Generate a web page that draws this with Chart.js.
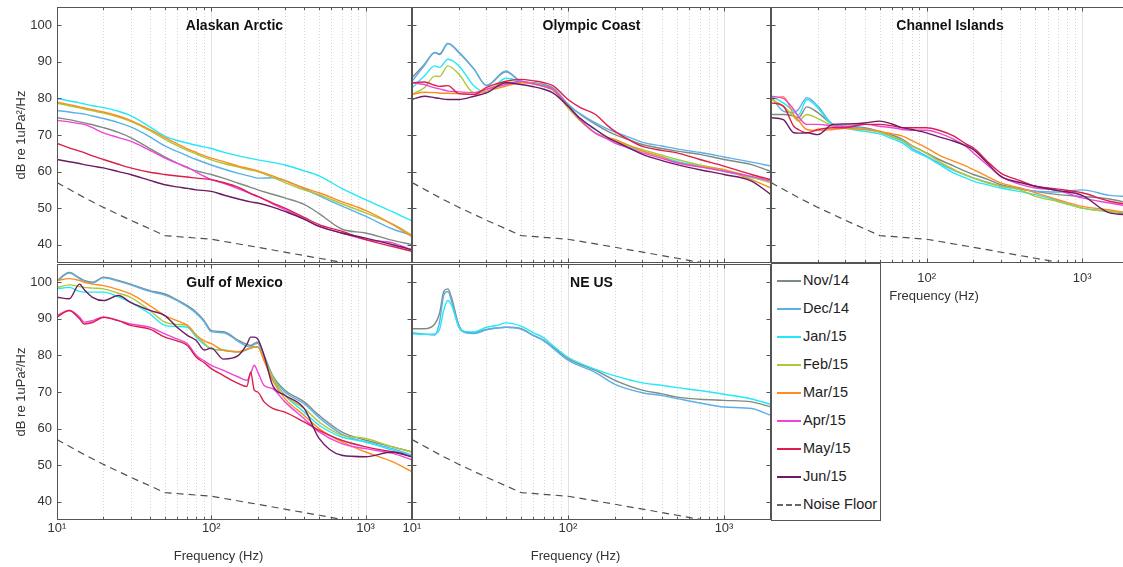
<!DOCTYPE html>
<html>
<head>
<meta charset="utf-8">
<script src="https://cdn.jsdelivr.net/npm/chart.js@4.4.0/dist/chart.umd.min.js"></script>
<style>
  html, body { margin:0; padding:0; background:#fff; width:1123px; height:567px; overflow:hidden; position:relative; }
  canvas { position:absolute; left:0; top:0; }
  #legend { position:absolute; left:771px; top:263px; width:110px; height:258px; box-sizing:border-box;
            background:#fff; border:1px solid #555; z-index:10; font-family:"Liberation Sans", Arial, Helvetica, sans-serif; }
  .row { position:absolute; left:0; height:20px; width:107px; }
  .row span.l { position:absolute; left:5px; top:9px; width:24px; height:0; border-top:2px solid #888; }
  .row span.t { position:absolute; left:31px; top:1px; font-size:14.5px; color:#222; line-height:17px; white-space:nowrap; }
</style>
</head>
<body>
<canvas id="p1" width="1135" height="567"></canvas>
<canvas id="p2" width="1135" height="567"></canvas>
<canvas id="p3" width="1135" height="567"></canvas>
<canvas id="p4" width="1135" height="567"></canvas>
<canvas id="p5" width="1135" height="567"></canvas>
<div id="legend"></div>
<script>
// series names / colours
const monthLabels = ['Nov/14','Dec/14','Jan/15','Feb/15','Mar/15','Apr/15','May/15','Jun/15'];
const monthColors = ['#7f8b80','#5cb0ea','#22e8f7','#a9c93a','#ff8c1e','#ee44da','#dc1f4a','#6d1b63'];

// noise floor (same in every panel)
const noiseFreq  = [10, 15, 20, 30, 50, 100, 200, 500, 1000, 2000];
const noiseFloor = [57, 52.9, 50.2, 46.7, 42.5, 41.5, 39.3, 36.3, 34, 31.8];

// tick labels
const yTicks = [40, 50, 60, 70, 80, 90, 100];
const xMajor = [10, 100, 1000];
const xMajorLabels = ['10\u00B9', '10\u00B2', '10\u00B3'];
const xMinor = [20,30,40,50,60,70,80,90,200,300,400,500,600,700,800,900,2000];

// frequency grids (Hz)
const freqA = [10,12,14,15,17,20,25,30,40,50,60,70,80,100,120,150,180,200,250,300,400,500,700,1000,1500,2000];
const freqGulf = [10,12,14,15,17,20,25,30,40,50,60,70,80,90,100,120,150,170,180,190,200,220,250,300,400,500,700,1000,1500,2000];
const freqNE = [10,12,14,15,16,17,18,20,22,25,30,35,40,50,60,70,80,100,150,200,300,400,500,700,1000,1500,2000];

// Alaskan Arctic
const arcticNov = [74.7,74.2,73.6,73.3,72.8,72,70.7,69.3,66.3,64,62.3,61,60.2,59.2,58.2,56.8,55.7,55,53.8,52.8,51,48.5,44.3,43.2,41.2,40];
const arcticDec = [76.7,76.3,75.9,75.7,75.2,74.5,73.4,72.2,69.5,67,65.5,64.3,63.3,61.8,60.7,59.5,58.7,58.2,58.3,57.6,55.3,53.4,50.6,47.8,44.3,42.6];
const arcticJan = [80,79.3,78.8,78.5,78,77.5,76.5,75.3,72.2,69.7,68.5,67.8,67.2,66.3,65.3,64.3,63.6,63.2,62.5,61.8,60.2,58.8,55.4,52.3,49,46.5];
const arcticFeb = [78.7,78,77.4,77.1,76.6,76,74.9,73.7,71.2,68.8,67.1,65.8,64.8,63.2,62.2,61.2,60.4,60,58.4,57,55,53.7,51.2,48.7,45.6,42.6];
const arcticMar = [79,78.3,77.7,77.4,76.9,76.3,75.2,74,71.5,69.3,67.6,66.2,65.2,63.7,62.7,61.5,60.7,60.2,58.8,57.5,55.5,54.2,51.8,49.4,45.5,42.2];
const arcticApr = [74,73.6,73.1,72.9,72,70.6,69.3,68.3,65.8,63.7,62.3,61.2,59.8,57.8,56.8,55.3,54,53.2,51.2,49.6,47,45,43.2,41.4,40.5,38.6];
const arcticMay = [67.7,66.5,65.6,65.2,64.3,63.3,62,61,59.8,59.2,58.8,58.5,58.2,57.8,57,55.7,54,53.2,51.4,50,47.5,45.5,43.7,41.4,39.5,38.2];
const arcticJun = [63.3,62.7,62.2,61.9,61.5,61,60,59.2,57.6,56.4,55.8,55.4,55,54.6,53.6,52.5,51.7,51.4,50.3,49.1,47,45,43.2,41.8,40,38.6];

// Olympic Coast
const olyNov = [85.7,89.3,92.6,92,95,92.5,88,83.5,87.3,84.7,84.3,83.8,82.9,78.4,75.6,72.9,71,70.1,68.6,67.4,66.3,65.6,64.7,63.3,61.9,60];
const olyDec = [84.7,89,92.5,92.2,95,92.7,88,83.6,87.5,84.5,84.2,83.6,82.6,78.2,75.8,73.3,71.6,70.8,69.3,68,67,66.2,65.2,64,62.6,61.5];
const olyJan = [82.9,86.1,88.9,88.5,90.7,88.9,83.4,81.6,85.5,84.7,84,83.3,82.3,77.9,74.5,71.5,69,67.8,66.6,65.6,64,62.8,61.5,60.1,58.3,57.8];
const olyFeb = [81.1,82.9,86.1,86,88.9,86.6,81.6,82.5,84.3,84.5,84,83.3,82.3,77.4,73.8,70.5,69,68.3,67,66,64.5,63.3,61.8,60.5,58.5,56.9];
const olyMar = [81.1,81.7,81.6,81.5,81.4,81.3,81.1,82,83.4,84.3,84,83.3,82.3,77.9,74,70.5,69.3,68.8,67,65.6,64,62.4,61.3,60.5,57.8,55.5];
const olyApr = [84.3,83.8,82.9,82.6,82,81.8,81.6,82.5,83.8,84.7,84,83.3,82.5,77.9,74.2,70.5,68.8,67.8,66.3,65.1,63.6,62.4,61.3,60.1,58.7,57.4];
const olyMay = [84.3,84.5,83.6,83.3,83.5,81.3,81.1,83,84.7,85.2,84.8,84.3,83.5,79.7,77.5,75.6,72.5,71,68.5,66.9,65.8,65.1,63.3,61.5,59.2,57.8];
const olyJun = [79.7,80.6,80.2,80,79.7,79.7,80.6,81.5,84.3,83.8,83.2,82.5,81.5,77.9,74.5,71.5,69.3,68.3,66.3,64.7,63,61.9,60.5,59.2,57.4,53.7];

// Channel Islands
const chiNov = [75.6,75.6,75.2,74.7,77.7,76.1,72.9,72.4,72,71,70,68.8,67.2,65.1,63.3,61.5,60,59.2,57.8,56.4,55.3,54.6,53.7,53.2,52.5,51.4];
const chiDec = [80.6,76.5,76.1,77,80.2,77.9,72.9,72.4,71.8,70.8,69.5,68.3,66.5,64.2,62.3,60.3,59,58.3,57,56,55.2,54.6,54.4,55,53.5,53.2];
const chiJan = [80.6,78.8,76.5,75.5,79.7,77.4,72.5,71.8,71,70.3,69,67.8,66,64,62,59.6,58.2,57.4,56.3,55.5,54.5,53.7,52,50,49.1,48.2];
const chiFeb = [79.7,77.9,75,73.8,75.6,74.5,72.5,71.8,71.5,70.8,69.5,68.5,67,65,62.8,60.5,59,58.2,56.8,56,55,53.2,51.8,50,49,48.7];
const chiMar = [79.7,80.5,75.5,74,71.5,71.2,71.5,71.8,71.5,71,70.3,69.7,68.5,66.5,64.5,62.8,61.5,60.5,58.5,56.9,55.5,54.2,52.3,50.5,49.5,48.7];
const chiApr = [80.6,80,77,75,72.9,72.9,72.5,72.3,72.9,72.4,72,71.5,71.3,71.3,70.5,68.8,66.8,65.1,61.5,58.7,56.5,55.5,54.8,52.8,51.4,50.5];
const chiMay = [78.8,77.9,72.4,71.5,70.6,71.5,72,72,72.9,72.9,72.5,72,72,72,71.3,69.7,67.5,66.5,62.5,59.6,57.5,56,55.2,54.2,51.9,51];
const chiJun = [74.7,74.2,70.6,70.5,70.6,70.1,72.9,73,73.3,73.8,73,72,71.5,70.6,69.5,68.3,67,66,62,58.7,57,56,54.8,53.5,48.7,48.2];

// Gulf of Mexico
const gulfNov = [100.5,102.7,101.2,100.5,100,101.4,100.5,99.5,97.7,96.8,95.2,93.6,91.8,89.5,86.8,86.5,84.1,83,82.7,83.3,83.6,80,74.5,70.5,67.3,63.6,59.1,56.8,55,53.6];
const gulfDec = [100.3,102.5,101,100.3,99.8,101.2,100.3,99.3,97.5,96.5,95,93.3,91.5,89.2,86.5,86.2,83.8,82.5,82.3,83,83.3,79.5,74.2,70,66.8,63,58.5,56.3,54.5,52.7];
const gulfJan = [98.2,98.6,97.5,97.3,97.3,97.3,96,94.5,91.4,88.2,87.9,87.7,85,83,81.8,81.5,80.9,81.5,82,82.3,82.3,79,73.6,69.1,64.5,60.9,57.7,56.4,54.1,52.7];
const gulfFeb = [98.6,99.3,98.8,98.6,98.4,98.2,97,95.9,92.3,89.1,88.5,88.2,85.5,83.3,81.8,81.4,81,81.7,82,82.3,82.3,79,74.1,69.1,65.5,61.8,58.2,57.3,55,53.6];
const gulfMar = [100.5,101,100.5,100,99.5,99.1,98,96.8,93.6,90.9,89.5,88.2,85.5,84,83.2,81.4,81,81.7,82,82.3,82.3,78.5,73.2,68.2,63.6,60,56.4,53.6,50.9,48.2];
const gulfApr = [90.9,92.3,90.5,89.1,89.5,90.5,89.5,88.6,87.7,85.9,84.5,83.2,80,78.5,77.3,75.9,74.1,73.2,75,77.3,75.5,71.8,70.9,67.3,62.7,59.1,55.9,54.5,53.2,51.4];
const gulfMay = [90.5,92.3,90,88.6,89,90.4,89.5,88.2,87.2,85,84,82.7,79.5,78,76.4,74.5,72.3,71.5,75.5,70.5,70,67.3,65.5,64.5,61.8,59.5,56.8,55,53.6,52.3];
const gulfJun = [95.9,95.5,99.5,98,95.9,95,96.4,94.5,92.3,90.9,87.7,85.5,84.1,81.5,82,79,80,83,85,85,84.5,80,71.8,69.1,65.5,57.3,52.7,52.3,53.6,52.3];

// NE US (only three months)
const neNov = [87.3,87.3,88.6,91.4,97.5,98.2,95.5,88.2,86.4,86.2,87.1,87.5,87.7,87.3,85.5,84.1,82.3,79.1,75.9,73.2,70.5,69.5,68.6,68,67.7,67.3,65.9];
const neDec = [86.2,85.8,85.6,89,96.5,97.5,94.5,87.7,86.2,86,87,87.5,87.7,87.2,85.4,84,82,78.7,75.3,72.1,69.8,69,68.2,67,65.9,65.5,63.6];
const neJan = [85.9,85.8,85.9,87,92.5,95,93.5,87.7,86.5,86.4,87.7,88.2,88.9,88,86.2,84.8,82.7,79.5,76.2,74.4,72.5,71.8,71.2,70.4,69.4,68.1,66.6];

const FONT = '"Liberation Sans", Arial, Helvetica, sans-serif';
const CW = 1135, CH = 567;

const panelFrame = {
  id: 'panelFrame',
  beforeDatasetsDraw(chart){
    const {ctx, chartArea: ca, scales: {x}} = chart;
    ctx.save();
    ctx.lineWidth = 1;
    xMinor.concat([100, 1000]).forEach(f => {
      const px = Math.round(x.getPixelForValue(f)) + 0.5;
      if(px <= ca.left + 1 || px >= ca.right - 1) return;
      const major = f === 100 || f === 1000;
      ctx.strokeStyle = major ? '#e2e2e2' : '#d4d4d4';
      ctx.setLineDash(major ? [] : [1, 2]);
      ctx.beginPath(); ctx.moveTo(px, ca.top); ctx.lineTo(px, ca.bottom); ctx.stroke();
    });
    ctx.restore();
  },
  afterDatasetsDraw(chart, args, opts){
    const {ctx, chartArea: ca, scales: {x, y}} = chart;
    ctx.save();
    ctx.strokeStyle = '#555';
    ctx.lineWidth = 1;
    ctx.setLineDash([]);
    const L = Math.round(ca.left) + 0.5, R = Math.round(ca.right) - 0.5;
    const T = Math.round(ca.top) + 0.5, B = Math.round(ca.bottom) - 0.5;
    ctx.strokeRect(L, T, R - L, B - T);
    ctx.beginPath();
    yTicks.forEach(v => {
      const py = Math.round(y.getPixelForValue(v)) + 0.5;
      ctx.moveTo(L, py); ctx.lineTo(L + 4, py);
      ctx.moveTo(R, py); ctx.lineTo(R - 4, py);
    });
    xMajor.concat(xMinor).forEach(f => {
      const px = Math.round(x.getPixelForValue(f)) + 0.5;
      if(px < ca.left || px > ca.right) return;
      const len = xMajor.includes(f) ? 4 : 2.5;
      ctx.moveTo(px, B); ctx.lineTo(px, B - len);
      ctx.moveTo(px, T); ctx.lineTo(px, T + len);
    });
    ctx.stroke();
    if(opts.title){
      ctx.fillStyle = '#111';
      ctx.font = 'bold 14px ' + FONT;
      ctx.textAlign = 'center';
      ctx.textBaseline = 'middle';
      ctx.fillText(opts.title, (ca.left + ca.right) / 2, ca.top + 19);
    }
    // x axis title, sits a little left of the panel centre like the original
    if(opts.xTitleY){
      ctx.fillStyle = '#333';
      ctx.font = '13px ' + FONT;
      ctx.textAlign = 'center';
      ctx.textBaseline = 'middle';
      ctx.fillText('Frequency (Hz)', (ca.left + ca.right) / 2 - 16, opts.xTitleY);
    }
    ctx.restore();
  }
};

function toPoints(freqs, vals){
  return freqs.map((f, i) => ({x: f, y: vals[i]}));
}

function buildPanel(id, cfg){
  const a = cfg.area;
  const yW = cfg.yLabels ? 57 : 0;
  const xH = cfg.xLabels ? cfg.xAxisH : 0;
  const datasets = cfg.series.map((vals, i) => ({
    label: monthLabels[i],
    data: toPoints(cfg.freqs, vals),
    borderColor: monthColors[i],
    borderWidth: 1.4,
    pointRadius: 0,
    cubicInterpolationMode: 'monotone',
    order: 10 - i
  }));
  datasets.push({
    label: 'Noise Floor',
    data: toPoints(noiseFreq, noiseFloor),
    borderColor: '#505050',
    borderWidth: 1.2,
    borderDash: [7, 5],
    pointRadius: 0,
    order: 0
  });
  return new Chart(document.getElementById(id), {
    type: 'line',
    data: { datasets },
    plugins: [panelFrame],
    options: {
      responsive: false,
      animation: false,
      devicePixelRatio: 1,
      layout: { padding: { left: a.l - yW, top: a.t, right: CW - a.r, bottom: CH - a.b - xH } },
      plugins: { legend: { display: false }, tooltip: { enabled: false },
                 panelFrame: { title: cfg.title, xTitleY: cfg.xTitleY } },
      scales: {
        x: {
          type: 'logarithmic', min: 10, max: 2000,
          display: !!cfg.xLabels,
          grid: { display: false, drawTicks: false },
          border: { display: false },
          afterBuildTicks: s => { s.ticks = xMajor.map(v => ({ value: v })); },
          afterFit: s => { s.height = xH; s.paddingLeft = 0; s.paddingRight = 0; },
          ticks: {
            padding: cfg.xTickPad || 0, color: '#333', maxRotation: 0, autoSkip: false,
            font: { family: FONT, size: 13 },
            callback: v => (cfg.hideFirstX && v === 10) ? '' : (xMajorLabels[xMajor.indexOf(v)] || '')
          }
        },
        y: {
          type: 'linear', min: 35, max: 105,
          display: !!cfg.yLabels,
          grid: { display: false, drawTicks: false },
          border: { display: false },
          afterBuildTicks: s => { s.ticks = yTicks.map(v => ({ value: v })); },
          afterFit: s => { s.width = yW; s.paddingTop = 0; s.paddingBottom = 0; },
          ticks: { padding: 5, color: '#333', font: { family: FONT, size: 13 } },
          title: { display: !!cfg.yLabels, text: 'dB re 1uPa\u00B2/Hz', color: '#333',
                   font: { family: FONT, size: 13 }, padding: { top: 14, bottom: 0 } }
        }
      }
    }
  });
}

buildPanel('p1', { title: 'Alaskan Arctic', area: {l:57, t:7, r:412, b:263}, yLabels: true, freqs: freqA,
  series: [arcticNov, arcticDec, arcticJan, arcticFeb, arcticMar, arcticApr, arcticMay, arcticJun] });
buildPanel('p2', { title: 'Olympic Coast', area: {l:412, t:7, r:771, b:263}, freqs: freqA,
  series: [olyNov, olyDec, olyJan, olyFeb, olyMar, olyApr, olyMay, olyJun] });
buildPanel('p3', { title: 'Channel Islands', area: {l:771, t:7, r:1129, b:263}, freqs: freqA,
  xLabels: true, xAxisH: 43, xTickPad: 8, xTitleY: 296, hideFirstX: true,
  series: [chiNov, chiDec, chiJan, chiFeb, chiMar, chiApr, chiMay, chiJun] });
buildPanel('p4', { title: 'Gulf of Mexico', area: {l:57, t:264, r:412, b:520}, yLabels: true, freqs: freqGulf,
  xLabels: true, xAxisH: 47, xTickPad: 1, xTitleY: 556,
  series: [gulfNov, gulfDec, gulfJan, gulfFeb, gulfMar, gulfApr, gulfMay, gulfJun] });
buildPanel('p5', { title: 'NE US', area: {l:412, t:264, r:771, b:520}, freqs: freqNE,
  xLabels: true, xAxisH: 47, xTickPad: 1, xTitleY: 556,
  series: [neNov, neDec, neJan] });

// legend box
const legend = document.getElementById('legend');
monthLabels.concat(['Noise Floor']).forEach((name, i) => {
  const row = document.createElement('div');
  row.className = 'row';
  row.style.top = (7 + i * 28) + 'px';
  const line = document.createElement('span');
  line.className = 'l';
  if(i < monthLabels.length){
    line.style.borderTopColor = monthColors[i];
  } else {
    line.style.borderTop = '2px dashed #666';
  }
  const txt = document.createElement('span');
  txt.className = 't';
  txt.textContent = name;
  row.appendChild(line);
  row.appendChild(txt);
  legend.appendChild(row);
});
</script>
</body>
</html>
